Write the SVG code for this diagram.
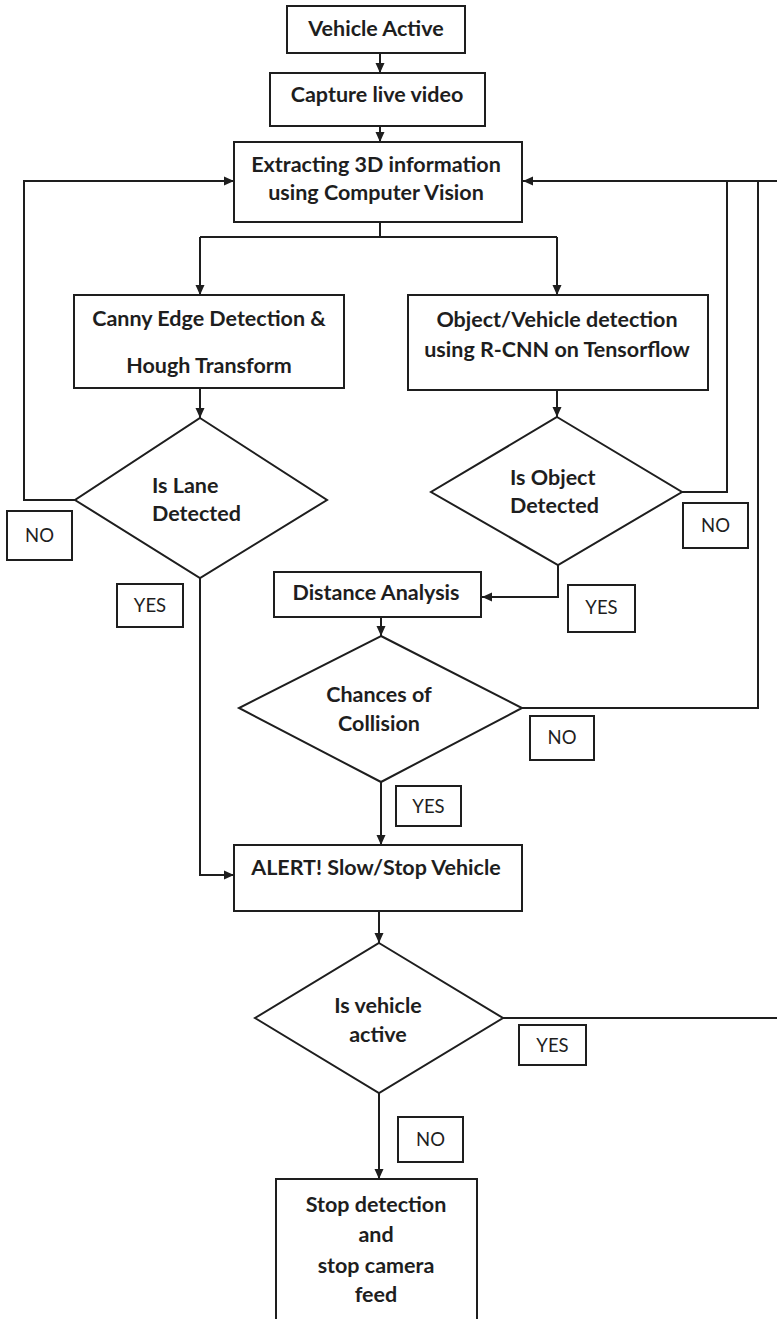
<svg xmlns="http://www.w3.org/2000/svg" width="777" height="1319" viewBox="0 0 777 1319">
  <defs>
    <marker id="arrow" viewBox="0 0 10 10" refX="10" refY="5" markerWidth="10" markerHeight="10" markerUnits="userSpaceOnUse" orient="auto">
      <path d="M0,0.5 L10,5 L0,9.5 Z" fill="#1e1e1e"/>
    </marker>
    <style>
      .box { fill: #ffffff; stroke: #1e1e1e; stroke-width: 2; }
      .wire { fill: none; stroke: #1e1e1e; stroke-width: 2; }
      .t { font-family: Lato, "Liberation Sans", sans-serif; font-weight: 700; font-size: 21.5px; fill: #1e1e1e; text-anchor: middle; }
      .tl { font-family: Lato, "Liberation Sans", sans-serif; font-weight: 700; font-size: 21.5px; fill: #1e1e1e; }
      .lab { font-family: Lato, "Liberation Sans", sans-serif; font-weight: 400; font-size: 18.5px; fill: #1e1e1e; text-anchor: middle; }
    </style>
  </defs>
  <rect width="777" height="1319" fill="#ffffff"/>

  <!-- connectors -->
  <g id="connectors">
    <path class="wire" d="M380,53 V73" marker-end="url(#arrow)"/>
    <path class="wire" d="M380,126 V142" marker-end="url(#arrow)"/>
    <!-- split below the vision step -->
    <path class="wire" d="M380,222 V237"/>
    <path class="wire" d="M200,237 H557"/>
    <path class="wire" d="M200,237 V295" marker-end="url(#arrow)"/>
    <path class="wire" d="M557,237 V295" marker-end="url(#arrow)"/>
    <path class="wire" d="M200,388 V418" marker-end="url(#arrow)"/>
    <path class="wire" d="M557,390 V417" marker-end="url(#arrow)"/>
    <!-- lane not found: back to the vision step -->
    <path class="wire" d="M75,500 H24 V181 H234" marker-end="url(#arrow)"/>
    <!-- right-hand return lines -->
    <path class="wire" d="M780,181 H523" marker-end="url(#arrow)"/>
    <path class="wire" d="M682,492 H727 V181"/>
    <path class="wire" d="M522,708 H758 V181"/>
    <path class="wire" d="M503,1018 H780"/>
    <!-- object found -->
    <path class="wire" d="M558,565 V597 H482" marker-end="url(#arrow)"/>
    <path class="wire" d="M381,617 V636" marker-end="url(#arrow)"/>
    <!-- lane found -->
    <path class="wire" d="M200,578 V875 H234" marker-end="url(#arrow)"/>
    <path class="wire" d="M381,782 V845" marker-end="url(#arrow)"/>
    <path class="wire" d="M379,911 V943" marker-end="url(#arrow)"/>
    <path class="wire" d="M379,1093 V1179" marker-end="url(#arrow)"/>
  </g>

  <g id="vehicle-active">
    <rect class="box" x="287" y="6" width="178" height="47"/>
    <text class="t" x="376" y="36">Vehicle Active</text>
  </g>

  <g id="capture-video">
    <rect class="box" x="270" y="73" width="215" height="53"/>
    <text class="t" x="377" y="102">Capture live video</text>
  </g>

  <g id="extract-3d">
    <rect class="box" x="234" y="142" width="288" height="80"/>
    <text class="t" x="376" y="172">Extracting 3D information</text>
    <text class="t" x="376" y="200">using Computer Vision</text>
  </g>

  <g id="canny-hough">
    <rect class="box" x="74" y="295" width="270" height="93"/>
    <text class="t" x="209" y="326">Canny Edge Detection &amp;</text>
    <text class="t" x="209" y="373">Hough Transform</text>
  </g>

  <g id="rcnn-detection">
    <rect class="box" x="408" y="295" width="300" height="95"/>
    <text class="t" x="557" y="327">Object/Vehicle detection</text>
    <text class="t" x="557" y="357">using R-CNN on Tensorflow</text>
  </g>

  <g id="is-lane-detected">
    <polygon class="box" points="200,418 327,500 200,578 75,500"/>
    <text class="tl" x="152" y="493">Is Lane</text>
    <text class="tl" x="152" y="521">Detected</text>
  </g>

  <g id="is-object-detected">
    <polygon class="box" points="557,417 682,492 558,565 431,492"/>
    <text class="tl" x="510" y="485">Is Object</text>
    <text class="tl" x="510" y="513">Detected</text>
  </g>

  <g id="distance-analysis">
    <rect class="box" x="274" y="572" width="207" height="45"/>
    <text class="t" x="376" y="600">Distance Analysis</text>
  </g>

  <g id="collision-chance">
    <polygon class="box" points="381,636 522,708 381,782 239,708"/>
    <text class="t" x="379" y="702">Chances of</text>
    <text class="t" x="379" y="731">Collision</text>
  </g>

  <g id="alert">
    <rect class="box" x="234" y="845" width="288" height="66"/>
    <text class="t" x="376" y="875">ALERT! Slow/Stop Vehicle</text>
  </g>

  <g id="is-vehicle-active">
    <polygon class="box" points="379,943 503,1018 379,1093 255,1018"/>
    <text class="t" x="378" y="1013">Is vehicle</text>
    <text class="t" x="378" y="1042">active</text>
  </g>

  <g id="stop-detection">
    <rect class="box" x="276" y="1179" width="201" height="150"/>
    <text class="t" x="376" y="1212">Stop detection</text>
    <text class="t" x="376" y="1242">and</text>
    <text class="t" x="376" y="1273">stop camera</text>
    <text class="t" x="376" y="1302">feed</text>
  </g>

  <!-- branch labels -->
  <g id="labels">
    <g id="lane-no"><rect class="box" x="7" y="511" width="65" height="49"/><text class="lab" x="39.5" y="542">NO</text></g>
    <g id="lane-yes"><rect class="box" x="117" y="584" width="66" height="43"/><text class="lab" x="150" y="612">YES</text></g>
    <g id="object-no"><rect class="box" x="683" y="503" width="65" height="45"/><text class="lab" x="715.5" y="532">NO</text></g>
    <g id="object-yes"><rect class="box" x="568" y="585" width="67" height="47"/><text class="lab" x="601.5" y="614">YES</text></g>
    <g id="collision-no"><rect class="box" x="530" y="716" width="64" height="44"/><text class="lab" x="562" y="744">NO</text></g>
    <g id="collision-yes"><rect class="box" x="396" y="786" width="65" height="40"/><text class="lab" x="428.5" y="813">YES</text></g>
    <g id="active-yes"><rect class="box" x="519" y="1025" width="67" height="40"/><text class="lab" x="552.5" y="1052">YES</text></g>
    <g id="active-no"><rect class="box" x="398" y="1117" width="65" height="45"/><text class="lab" x="430.5" y="1146">NO</text></g>
  </g>
</svg>
